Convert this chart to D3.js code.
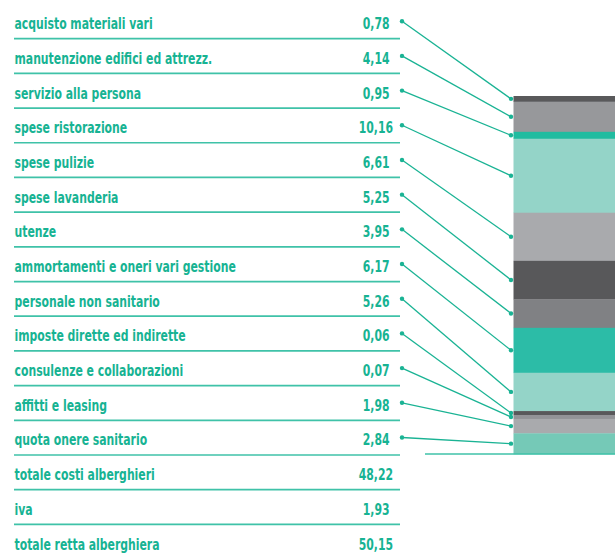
<!DOCTYPE html>
<html>
<head>
<meta charset="utf-8">
<script src="https://cdn.jsdelivr.net/npm/d3@7"></script>
<style>
  html, body { margin: 0; padding: 0; background: #fff; }
  svg { display: block; }
  .row-label, .row-value {
    font-family: "DejaVu Sans Condensed", "Liberation Sans Narrow", sans-serif;
    font-weight: bold;
    font-size: 15.5px;
    fill: #17b393;
  }
</style>
</head>
<body>
<svg id="chart" width="615" height="555"></svg>
<script>
// cost items (drawn in the stacked bar)
const costLabels = [
  "acquisto materiali vari",
  "manutenzione edifici ed attrezz.",
  "servizio alla persona",
  "spese ristorazione",
  "spese pulizie",
  "spese lavanderia",
  "utenze",
  "ammortamenti e oneri vari gestione",
  "personale non sanitario",
  "imposte dirette ed indirette",
  "consulenze e collaborazioni",
  "affitti e leasing",
  "quota onere sanitario"
];
const costValues = [0.78, 4.14, 0.95, 10.16, 6.61, 5.25, 3.95, 6.17, 5.26, 0.06, 0.07, 1.98, 2.84];

// totals rows (table only)
const totalLabels = ["totale costi alberghieri", "iva", "totale retta alberghiera"];
const totalValues = [48.22, 1.93, 50.15];

const segmentColors = [
  "#59595b", "#97989b", "#20bca0", "#94d4c8", "#a9aaad", "#58585a", "#808184",
  "#2cbca7", "#94d4c8", "#58585a", "#929397", "#a9aaad", "#75c9b7"
];

const svg = d3.select("#chart");
const width = 615;

const teal = "#1ab394";
const ruleColor = "#3fc2a8";
const squeeze = 0.78; // condensed lettering

const rows = costLabels.map((l, i) => ({ label: l, value: costValues[i], cost: true, i: i }))
  .concat(totalLabels.map((l, j) => ({ label: l, value: totalValues[j], cost: false, i: costLabels.length + j })));

// row rule positions
const rowY = d3.scaleLinear()
  .domain([0, rows.length - 1])
  .range([38.7, 38.7 + (rows.length - 1) * 34.69]);

const fmt = v => d3.format(".2f")(v).replace(".", ",");

const table = svg.append("g").attr("class", "table");

table.selectAll("line.rule")
  .data(rows)
  .join("line")
  .attr("class", "rule")
  .attr("x1", 14).attr("x2", 400)
  .attr("y1", d => rowY(d.i)).attr("y2", d => rowY(d.i))
  .attr("stroke", ruleColor)
  .attr("stroke-width", 1.7);

table.selectAll("text.row-label")
  .data(rows)
  .join("text")
  .attr("class", "row-label")
  .attr("transform", d => `translate(14.5, ${rowY(d.i) - 9.5}) scale(${squeeze}, 1)`)
  .text(d => d.label);

table.selectAll("text.row-value")
  .data(rows)
  .join("text")
  .attr("class", "row-value")
  .attr("transform", d => `translate(${d.value >= 10 ? 393 : 389.5}, ${rowY(d.i) - 9.5}) scale(${squeeze}, 1)`)
  .attr("text-anchor", "end")
  .text(d => fmt(d.value));

// stacked bar
const barX = 513.5, barTop = 96, barBottom = 454;
const span = barBottom - barTop;
const minH = 4;
const h = d3.scaleLinear().domain([0, d3.sum(costValues)]).range([0, span]);
let heights = costValues.map(v => Math.max(h(v), minH));
const k = span / d3.sum(heights);
heights = heights.map(v => v * k);
const cum = d3.cumsum(heights);
const segs = costValues.map((v, i) => ({
  y0: barTop + (i ? cum[i - 1] : 0),
  y1: barTop + cum[i],
  color: segmentColors[i],
  i: i
}));

const bar = svg.append("g").attr("class", "bar");
bar.selectAll("rect")
  .data(segs)
  .join("rect")
  .attr("x", barX)
  .attr("width", width - barX)
  .attr("y", d => d.y0)
  .attr("height", d => d.y1 - d.y0 + 0.3)
  .attr("fill", d => d.color);

svg.append("line")
  .attr("x1", 425).attr("x2", width)
  .attr("y1", barBottom).attr("y2", barBottom)
  .attr("stroke", ruleColor)
  .attr("stroke-width", 1.7);

// leader lines
const leaders = segs.map(s => ({
  x1: 402, y1: rowY(s.i) - 17.5,
  x2: 511, y2: (s.y0 + s.y1) / 2
}));

const lg = svg.append("g").attr("class", "leaders");
lg.selectAll("line")
  .data(leaders)
  .join("line")
  .attr("x1", d => d.x1).attr("y1", d => d.y1)
  .attr("x2", d => d.x2).attr("y2", d => d.y2)
  .attr("stroke", teal)
  .attr("stroke-width", 1.3);

lg.selectAll("circle.start")
  .data(leaders)
  .join("circle")
  .attr("class", "start")
  .attr("cx", d => d.x1).attr("cy", d => d.y1)
  .attr("r", 2.2)
  .attr("fill", teal);

lg.selectAll("circle.end")
  .data(leaders)
  .join("circle")
  .attr("class", "end")
  .attr("cx", d => d.x2).attr("cy", d => d.y2)
  .attr("r", 2.2)
  .attr("fill", teal);
</script>
</body>
</html>
